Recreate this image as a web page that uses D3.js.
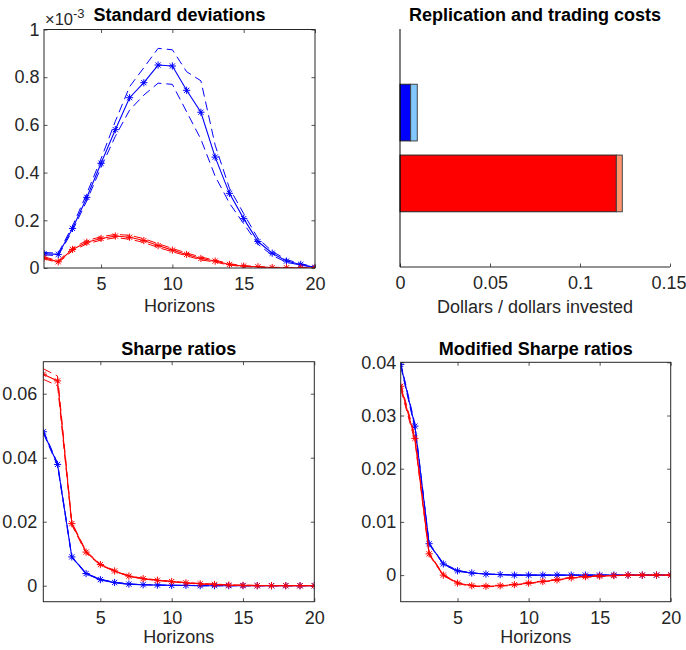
<!DOCTYPE html>
<html><head><meta charset="utf-8">
<script src="https://cdn.jsdelivr.net/npm/d3@7"></script>
<style>
body{margin:0;background:#fff}
svg{display:block}
text{font-family:"Liberation Sans",Arial,Helvetica,sans-serif}
</style>
</head><body>
<svg id="chart" width="686" height="650"></svg>
<script>
// ---------------- DATA ----------------
const horizons = [1,2,3,4,5,6,7,8,9,10,11,12,13,14,15,16,17,18,19,20];

// Standard deviations (units of 10^-3)
const sdBlue      = [0.060,0.057,0.166,0.296,0.439,0.580,0.714,0.777,0.851,0.847,0.745,0.653,0.465,0.313,0.207,0.111,0.062,0.029,0.015,0.003];
const sdBlueUpper = [0.065,0.062,0.176,0.312,0.458,0.615,0.760,0.840,0.921,0.915,0.823,0.785,0.515,0.335,0.228,0.124,0.070,0.035,0.018,0.005];
const sdBlueLower = [0.055,0.052,0.157,0.282,0.422,0.552,0.662,0.725,0.775,0.770,0.655,0.540,0.385,0.272,0.186,0.100,0.053,0.024,0.012,0.002];
const sdRed       = [0.043,0.026,0.078,0.108,0.124,0.134,0.129,0.115,0.094,0.075,0.057,0.040,0.029,0.015,0.008,0.005,0.002,0.001,0.0005,0.0002];
const sdRedUpper  = [0.047,0.030,0.084,0.115,0.131,0.141,0.137,0.123,0.102,0.082,0.063,0.046,0.033,0.018,0.010,0.006,0.003,0.002,0.001,0.0005];
const sdRedLower  = [0.039,0.022,0.072,0.101,0.117,0.127,0.121,0.107,0.086,0.068,0.051,0.034,0.025,0.012,0.006,0.004,0.001,0.000,0.000,0.000];

// Replication and trading costs (dollars / dollars invested)
const costCategories  = ["blue","red"];
const replicationCost = [0.0059, 0.1202];
const tradingCost     = [0.0037, 0.0033];

// Sharpe ratios
const srBlue      = [0.0481,0.0379,0.0090,0.0038,0.0019,0.0010,0.0005,0.0003,0.0002,0.0001,0.0001,0,0,0,0,0,0,0,0,0];
const srBlueUpper = [0.0485,0.0383,0.0092,0.0039,0.0020,0.0011,0.0006,0.0003,0.0002,0.0001,0.0001,0,0,0,0,0,0,0,0,0];
const srBlueLower = [0.0477,0.0375,0.0088,0.0037,0.0018,0.0009,0.0004,0.0003,0.0002,0.0001,0.0001,0,0,0,0,0,0,0,0,0];
const srRed       = [0.0661,0.0640,0.0194,0.0105,0.0066,0.0046,0.0030,0.0022,0.0017,0.0013,0.0009,0.0006,0.0004,0.0002,0.0001,0,0,0,0,0];
const srRedUpper  = [0.0678,0.0655,0.0198,0.0108,0.0068,0.0047,0.0031,0.0023,0.0018,0.0014,0.0010,0.0007,0.0005,0.0003,0.0002,0.0001,0,0,0,0];
const srRedLower  = [0.0645,0.0625,0.0190,0.0102,0.0064,0.0045,0.0029,0.0021,0.0016,0.0012,0.0008,0.0005,0.0003,0.0001,0,0,0,0,0,0];

// Modified Sharpe ratios
const msrBlue      = [0.0396,0.0280,0.0059,0.0021,0.0008,0.0004,0.0002,0.0001,0,0,0,0,0,0,0,0,0,0,0,0];
const msrBlueUpper = [0.0399,0.0284,0.0060,0.0022,0.0009,0.0004,0.0002,0.0001,0,0,0,0,0,0,0,0,0,0,0,0];
const msrBlueLower = [0.0393,0.0276,0.0058,0.0020,0.0007,0.0004,0.0002,0.0001,0,0,0,0,0,0,0,0,0,0,0,0];
const msrRed       = [0.0355,0.0257,0.0040,0.0000,-0.0015,-0.0020,-0.0021,-0.0020,-0.0018,-0.0015,-0.0012,-0.0009,-0.0005,-0.0003,-0.0002,-0.0001,0,0,0,0];
const msrRedUpper  = [0.0360,0.0262,0.0042,0.0001,-0.0014,-0.0019,-0.0020,-0.0019,-0.0017,-0.0014,-0.0011,-0.0008,-0.0004,-0.0002,-0.0001,-0.0001,0,0,0,0];
const msrRedLower  = [0.0350,0.0252,0.0038,-0.0001,-0.0016,-0.0021,-0.0022,-0.0021,-0.0019,-0.0016,-0.0013,-0.0010,-0.0006,-0.0004,-0.0003,-0.0001,0,0,0,0];

const xTicks     = [5,10,15,20];
const sdTicks    = [0,0.2,0.4,0.6,0.8,1];
const costTicks  = [0,0.05,0.1,0.15];
const srTicks    = [0,0.02,0.04,0.06];
const msrTicks   = [0,0.01,0.02,0.03,0.04];

// ---------------- DRAWING ----------------
const svg = d3.select("#chart");
svg.append("rect").attr("width",686).attr("height",650).attr("fill","#fff");

const AX = "#262626";
const FS = 18;
const TICK = 3.5;
const BLUE = "#0000ff", RED = "#ff0000";

function starPath(r){
  const d = r*0.72;
  return `M${-r},0L${r},0M0,${-r}L0,${r}M${-d},${-d}L${d},${d}M${-d},${d}L${d},${-d}`;
}

function styleAxis(g){
  g.select(".domain").remove();
  g.selectAll(".tick line").attr("stroke",AX).attr("stroke-width",0.8);
  g.selectAll(".tick text").attr("fill",AX).style("font-size",FS+"px")
    .style("font-family",'"Liberation Sans",Arial,sans-serif');
}

function linePanel(cfg){
  const g = svg.append("g");
  const x = d3.scaleLinear().domain([1,20]).range([cfg.left,cfg.right]);
  const y = d3.scaleLinear().domain(cfg.yDomain).range([cfg.bottom,cfg.top]);

  g.append("g").attr("transform",`translate(0,${cfg.bottom})`)
    .call(d3.axisBottom(x).tickValues(xTicks).tickSize(-TICK).tickPadding(9.5).tickFormat(d=>String(d)))
    .call(styleAxis);
  g.append("g").attr("transform",`translate(0,${cfg.top})`)
    .call(d3.axisTop(x).tickValues(xTicks).tickSize(-TICK).tickFormat(""))
    .call(styleAxis);
  g.append("g").attr("transform",`translate(${cfg.left},0)`)
    .call(d3.axisLeft(y).tickValues(cfg.yTicks).tickSize(-TICK).tickPadding(cfg.yPad||4.5).tickFormat(d=>String(d)))
    .call(styleAxis);
  g.append("g").attr("transform",`translate(${cfg.right},0)`)
    .call(d3.axisRight(y).tickValues(cfg.yTicks).tickSize(-TICK).tickFormat(""))
    .call(styleAxis);

  const clipId = "clip"+cfg.id;
  svg.append("clipPath").attr("id",clipId).append("rect")
    .attr("x",cfg.left).attr("y",cfg.top).attr("width",cfg.right-cfg.left).attr("height",cfg.bottom-cfg.top);

  const line = d3.line().x((d,i)=>x(horizons[i])).y(d=>y(d));
  const plot = g.append("g").attr("clip-path",`url(#${clipId})`);

  cfg.series.forEach(s=>{
    [s.upper,s.lower].forEach(b=>{
      plot.append("path").attr("d",line(b)).attr("fill","none")
        .attr("stroke",s.color).attr("stroke-width",1).attr("stroke-dasharray","9,5");
    });
    plot.append("path").attr("d",line(s.main)).attr("fill","none")
      .attr("stroke",s.color).attr("stroke-width",1.1);
    plot.selectAll(null).data(s.main).enter().append("path")
      .attr("transform",(d,i)=>`translate(${x(horizons[i])},${y(d)})`)
      .attr("d",starPath(3.6)).attr("fill","none").attr("stroke",s.color).attr("stroke-width",1);
  });

  g.append("rect").attr("x",cfg.left).attr("y",cfg.top)
    .attr("width",cfg.right-cfg.left).attr("height",cfg.bottom-cfg.top)
    .attr("fill","none").attr("stroke",AX).attr("stroke-width",1);

  const cx = (cfg.left+cfg.right)/2;
  g.append("text").attr("x",cx).attr("y",cfg.titleY).attr("text-anchor","middle")
    .style("font-size",FS+"px").style("font-weight","bold").attr("fill","#000").text(cfg.title);
  g.append("text").attr("x",cx).attr("y",cfg.xlabelY).attr("text-anchor","middle")
    .style("font-size",FS+"px").attr("fill",AX).text("Horizons");
  return g;
}

// Top-left: Standard deviations
const tl = linePanel({
  id:"tl", left:44, right:315, top:29.5, bottom:268,
  yDomain:[0,1], yTicks:sdTicks, title:"Standard deviations", titleY:21, xlabelY:312,
  series:[
    {main:sdBlue, upper:sdBlueUpper, lower:sdBlueLower, color:BLUE},
    {main:sdRed, upper:sdRedUpper, lower:sdRedLower, color:RED}
  ]
});
const ex = tl.append("text").attr("x",45).attr("y",25).attr("fill",AX).style("font-size","16.5px");
ex.append("tspan").text("\u00d710");
ex.append("tspan").attr("dy",-7).style("font-size","13px").text("-3");

// Bottom-left: Sharpe ratios
linePanel({
  id:"bl", left:43.3, right:314.3, top:361.7, bottom:601.7,
  yDomain:[-0.005,0.07], yTicks:srTicks, yPad:6, title:"Sharpe ratios", titleY:355, xlabelY:643,
  series:[
    {main:srBlue, upper:srBlueUpper, lower:srBlueLower, color:BLUE},
    {main:srRed, upper:srRedUpper, lower:srRedLower, color:RED}
  ]
});

// Bottom-right: Modified Sharpe ratios
linePanel({
  id:"br", left:400.7, right:670.7, top:362.3, bottom:601.7,
  yDomain:[-0.005,0.04], yTicks:msrTicks, title:"Modified Sharpe ratios", titleY:355, xlabelY:643,
  series:[
    {main:msrBlue, upper:msrBlueUpper, lower:msrBlueLower, color:BLUE},
    {main:msrRed, upper:msrRedUpper, lower:msrRedLower, color:RED}
  ]
});

// Top-right: Replication and trading costs (stacked horizontal bars)
(function(){
  const left=400, right=670, top=29, bottom=267;
  const g = svg.append("g");
  const x = d3.scaleLinear().domain([0,0.15]).range([left,right]);
  const y = d3.scaleBand().domain(costCategories).range([top,bottom]).paddingInner(0.2).paddingOuter(0.78);
  const repColors = {blue:"#0000ff", red:"#ff0000"};
  const tradeColors = {blue:"#80c8ff", red:"#ff9670"};

  costCategories.forEach((c,i)=>{
    g.append("rect").attr("x",x(0)).attr("y",y(c))
      .attr("width",x(replicationCost[i])-x(0)).attr("height",y.bandwidth())
      .attr("fill",repColors[c]).attr("stroke","#222").attr("stroke-width",1);
    g.append("rect").attr("x",x(replicationCost[i])).attr("y",y(c))
      .attr("width",x(replicationCost[i]+tradingCost[i])-x(replicationCost[i])).attr("height",y.bandwidth())
      .attr("fill",tradeColors[c]).attr("stroke","#444").attr("stroke-width",1);
  });

  const xa = g.append("g").attr("transform",`translate(0,${bottom})`)
    .call(d3.axisBottom(x).tickValues(costTicks).tickSize(-TICK).tickPadding(9.5).tickFormat(d=>String(d)))
    .call(styleAxis);
  // keep the last label inside the canvas
  xa.selectAll(".tick text").filter(d=>d===0.15).attr("text-anchor","middle").attr("dx",-1.5);
  g.append("line").attr("x1",left).attr("x2",right).attr("y1",bottom).attr("y2",bottom)
    .attr("stroke",AX).attr("stroke-width",1);
  g.append("line").attr("x1",left).attr("x2",left).attr("y1",top).attr("y2",bottom)
    .attr("stroke","#000").attr("stroke-width",1);

  const cx=(left+right)/2;
  g.append("text").attr("x",cx).attr("y",21).attr("text-anchor","middle")
    .style("font-size",FS+"px").style("font-weight","bold").attr("fill","#000").text("Replication and trading costs");
  g.append("text").attr("x",cx).attr("y",313).attr("text-anchor","middle")
    .style("font-size",FS+"px").attr("fill",AX).text("Dollars / dollars invested");
})();
</script>
</body></html>
